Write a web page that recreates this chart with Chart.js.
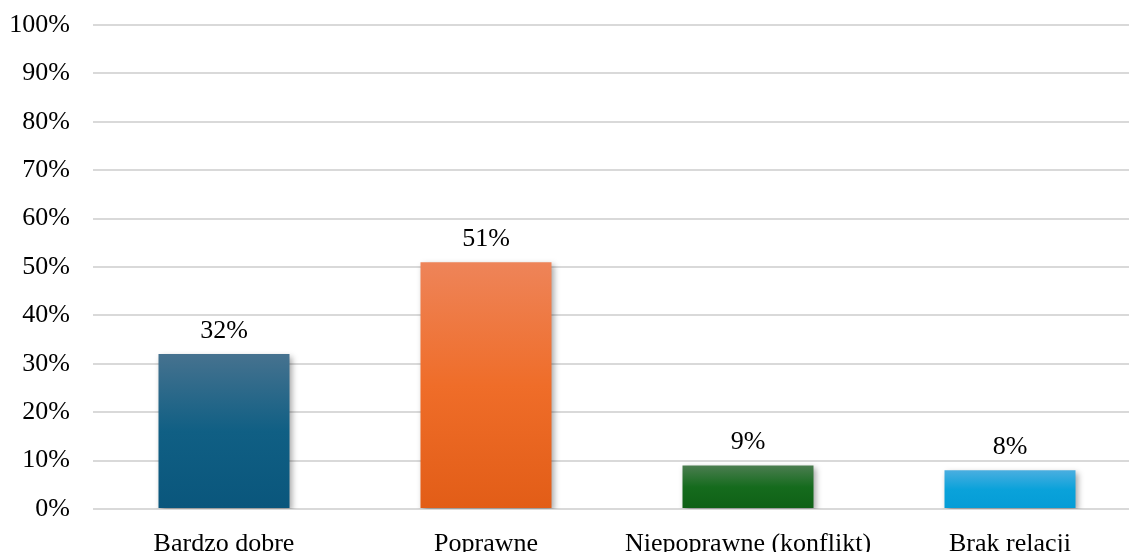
<!DOCTYPE html>
<html>
<head>
<meta charset="utf-8">
<script src="https://cdn.jsdelivr.net/npm/chart.js@4/dist/chart.umd.min.js"></script>
<style>
  html, body { margin: 0; padding: 0; background: #fff; overflow: hidden; }
  #wrap { width: 1141px; height: 552px; }
</style>
</head>
<body>
<div id="wrap"><canvas id="chart" width="1141" height="552"></canvas></div>
<script>
// Dane wykresu
const kategorie = ['Bardzo dobre', 'Poprawne', 'Niepoprawne (konflikt)', 'Brak relacji'];
const wartosci = [32, 51, 9, 8];
const tickiY = [0, 10, 20, 30, 40, 50, 60, 70, 80, 90, 100];

// kolory gradientu: góra / środek / dół
const koloryGora = ['#46728f', '#ee8459', '#4b7d50', '#4aaee0'];
const kolorySrodek = ['#105f84', '#ef6d29', '#156b1d', '#0aa2da'];
const koloryDol = ['#0a567c', '#e25d17', '#0f6016', '#049cd6'];

const fontSerif = "'Liberation Serif', 'Times New Roman', serif";

function gradient(ctx) {
    const chart = ctx.chart;
    const i = ctx.dataIndex;
    if (!chart.chartArea) return koloryDol[i];
    const y = chart.scales.y;
    const top = y.getPixelForValue(wartosci[i]);
    const bottom = y.getPixelForValue(0);
    const g = chart.ctx.createLinearGradient(0, top, 0, bottom);
    g.addColorStop(0, koloryGora[i]);
    g.addColorStop(0.5, kolorySrodek[i]);
    g.addColorStop(1, koloryDol[i]);
    return g;
}

// cień pod słupkami
const cien = {
    id: 'cien',
    beforeDatasetsDraw(chart) {
        const c = chart.ctx;
        c.save();
        c.shadowColor = 'rgba(0,0,0,0.35)';
        c.shadowBlur = 6;
        c.shadowOffsetX = 2;
        c.shadowOffsetY = 3;
    },
    afterDatasetsDraw(chart) {
        chart.ctx.restore();
    }
};

// etykiety wartości nad słupkami
const etykiety = {
    id: 'etykiety',
    afterDatasetsDraw(chart) {
        const c = chart.ctx;
        const meta = chart.getDatasetMeta(0);
        c.save();
        c.font = '26px ' + fontSerif;
        c.fillStyle = '#000';
        c.textAlign = 'center';
        c.textBaseline = 'bottom';
        meta.data.forEach((bar, i) => {
            c.fillText(wartosci[i] + '%', bar.x, bar.y - 10);
        });
        c.restore();
    }
};

new Chart(document.getElementById('chart'), {
    type: 'bar',
    data: {
        labels: kategorie,
        datasets: [{
            data: wartosci,
            backgroundColor: gradient,
            borderWidth: 0,
            barPercentage: 0.5,
            categoryPercentage: 1
        }]
    },
    options: {
        responsive: false,
        animation: false,
        layout: { padding: { top: 25, right: 0, left: 0, bottom: 0 } },
        plugins: {
            legend: { display: false },
            tooltip: { enabled: false }
        },
        scales: {
            x: {
                grid: { display: false },
                border: { display: false },
                ticks: {
                    color: '#000',
                    font: { family: fontSerif, size: 26 },
                    padding: 12,
                    maxRotation: 0,
                    autoSkip: false
                },
                afterFit(scale) {
                    scale.height = 43;
                    scale.paddingLeft = 0;
                    scale.paddingRight = 0;
                }
            },
            y: {
                min: 0,
                max: 100,
                afterBuildTicks(scale) { scale.ticks = tickiY.map(v => ({ value: v })); },
                grid: { color: '#d9d9d9', lineWidth: 2, drawTicks: false },
                border: { display: false },
                ticks: {
                    color: '#000',
                    font: { family: fontSerif, size: 26 },
                    padding: 23,
                    callback: v => v + '%'
                },
                afterFit(scale) {
                    scale.width = 93;
                    scale.paddingTop = 0;
                    scale.paddingBottom = 0;
                }
            }
        }
    },
    plugins: [cien, etykiety]
});
</script>
</body>
</html>
